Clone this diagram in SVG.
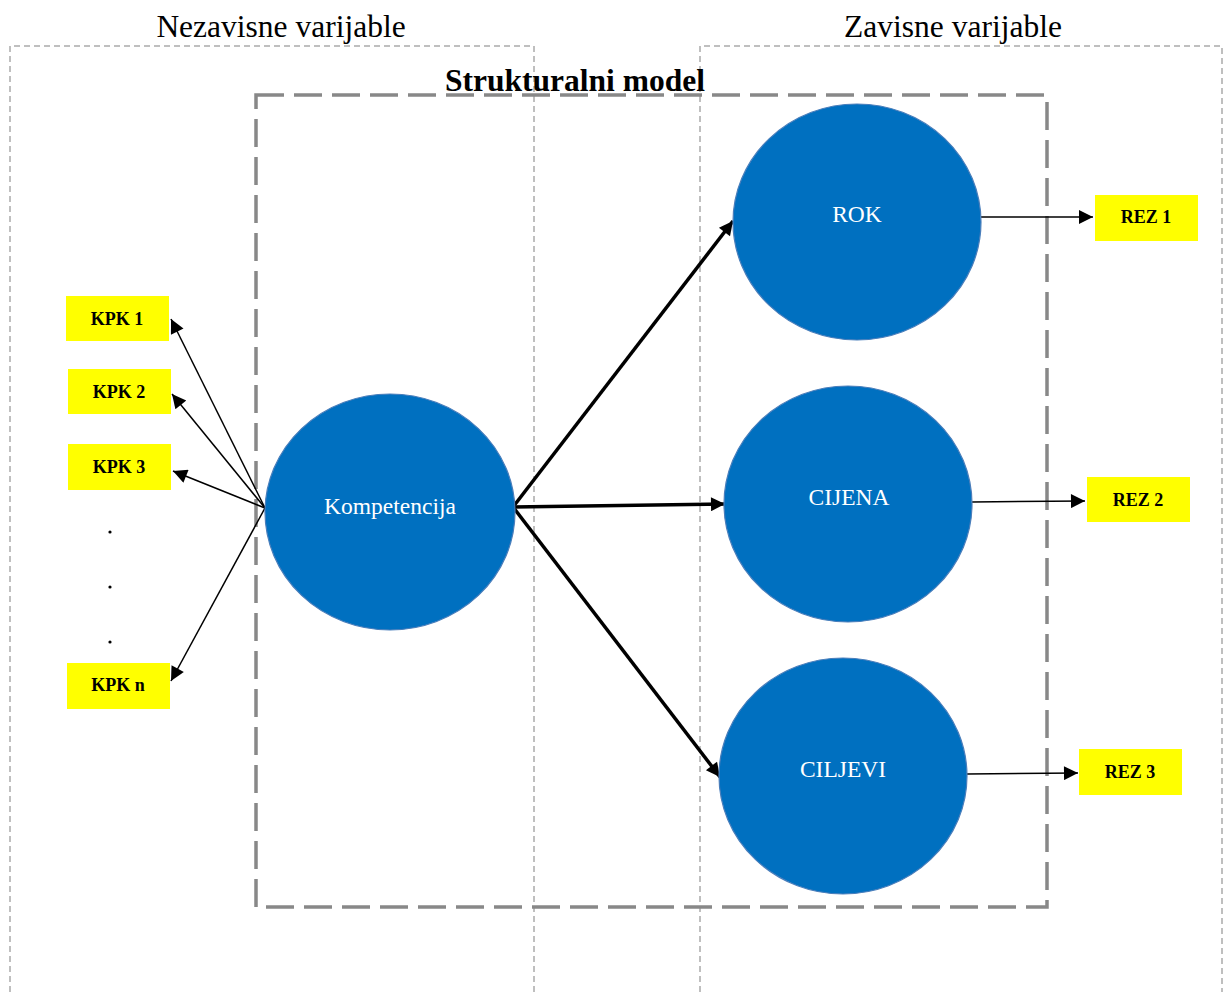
<svg xmlns="http://www.w3.org/2000/svg" width="1224" height="992" viewBox="0 0 1224 992">
<defs>
<style>
.zone{fill:none;stroke:#aaaaaa;stroke-width:1.5;stroke-dasharray:6 4}
.model{fill:none;stroke:#888888;stroke-width:3.5;stroke-dasharray:28 10}
.circ{fill:#0070C0;stroke:#4a7ebb;stroke-width:1.2}
.box{fill:#FFFF00}
.ct{font-family:"Liberation Serif",serif;font-size:23.5px;fill:#ffffff;text-anchor:middle}
.bt{font-family:"Liberation Serif",serif;font-size:18px;font-weight:bold;fill:#000;text-anchor:middle}
.title{font-family:"Liberation Serif",serif;font-size:31.5px;fill:#000;text-anchor:middle}
.thin{stroke:#000;stroke-width:1.5;fill:none}
.thick{stroke:#000;stroke-width:3.5;fill:none}
</style>
<marker id="ahk" viewBox="0 0 10 10" refX="10" refY="5" markerWidth="16" markerHeight="14" markerUnits="userSpaceOnUse" orient="auto"><path d="M0,0 L10,5 L0,10 z" fill="#000"/></marker>
<marker id="ahr" viewBox="0 0 10 10" refX="10" refY="5" markerWidth="18" markerHeight="14" markerUnits="userSpaceOnUse" orient="auto"><path d="M0,0 L10,5 L0,10 z" fill="#000"/></marker>
</defs>
<rect width="1224" height="992" fill="#fff"/>
<g id="zones">
<path class="zone" d="M10,992 L10,46 L534,46 L534,992"/>
<path class="zone" d="M700,992 L700,46 L1222,46 L1222,992"/>
<text class="title" x="281" y="37">Nezavisne varijable</text>
<text class="title" x="953" y="37">Zavisne varijable</text>
</g>
<g id="model">
<rect class="model" x="256" y="95" width="791" height="812"/>
<text class="title" x="575" y="91" font-weight="bold">Strukturalni model</text>
</g>
<g id="connectors">
<line class="thin" x1="265" y1="508" x2="171" y2="319" marker-end="url(#ahk)"/>
<line class="thin" x1="265" y1="508" x2="172" y2="394" marker-end="url(#ahk)"/>
<line class="thin" x1="265" y1="508" x2="173" y2="471" marker-end="url(#ahk)"/>
<line class="thin" x1="265" y1="508" x2="171" y2="681" marker-end="url(#ahk)"/>
<line class="thick" x1="513" y1="507" x2="733" y2="221" marker-end="url(#ahr)"/>
<line class="thick" x1="513" y1="507" x2="725" y2="504" marker-end="url(#ahr)"/>
<line class="thick" x1="513" y1="507" x2="720" y2="777" marker-end="url(#ahr)"/>
<line class="thin" x1="981" y1="217" x2="1093" y2="217" marker-end="url(#ahk)"/>
<line class="thin" x1="972" y1="502" x2="1085" y2="501" marker-end="url(#ahk)"/>
<line class="thin" x1="967" y1="774" x2="1078" y2="773" marker-end="url(#ahk)"/>
</g>
<g id="kompetencija"><ellipse class="circ" cx="390" cy="512" rx="125" ry="118"/><text class="ct" x="390" y="514">Kompetencija</text></g>
<g id="rok"><ellipse class="circ" cx="857" cy="222" rx="124" ry="118"/><text class="ct" x="857" y="222">ROK</text></g>
<g id="cijena"><ellipse class="circ" cx="848" cy="504" rx="124" ry="118"/><text class="ct" x="849" y="505">CIJENA</text></g>
<g id="ciljevi"><ellipse class="circ" cx="843" cy="776" rx="124" ry="118"/><text class="ct" x="843" y="777">CILJEVI</text></g>
<g id="kpk1"><rect class="box" x="66" y="296" width="103" height="45"/><text class="bt" x="117" y="325">KPK 1</text></g>
<g id="kpk2"><rect class="box" x="68" y="369" width="103" height="45"/><text class="bt" x="119" y="398">KPK 2</text></g>
<g id="kpk3"><rect class="box" x="68" y="444" width="103" height="46"/><text class="bt" x="119" y="473">KPK 3</text></g>
<g id="dots" fill="#000"><circle cx="110" cy="532" r="1.6"/><circle cx="110" cy="587" r="1.6"/><circle cx="110" cy="642" r="1.6"/></g>
<g id="kpkn"><rect class="box" x="67" y="663" width="103" height="46"/><text class="bt" x="118" y="691">KPK n</text></g>
<g id="rez1"><rect class="box" x="1095" y="195" width="103" height="46"/><text class="bt" x="1146" y="223">REZ 1</text></g>
<g id="rez2"><rect class="box" x="1087" y="477" width="103" height="45"/><text class="bt" x="1138" y="506">REZ 2</text></g>
<g id="rez3"><rect class="box" x="1079" y="749" width="103" height="46"/><text class="bt" x="1130" y="778">REZ 3</text></g>
</svg>
